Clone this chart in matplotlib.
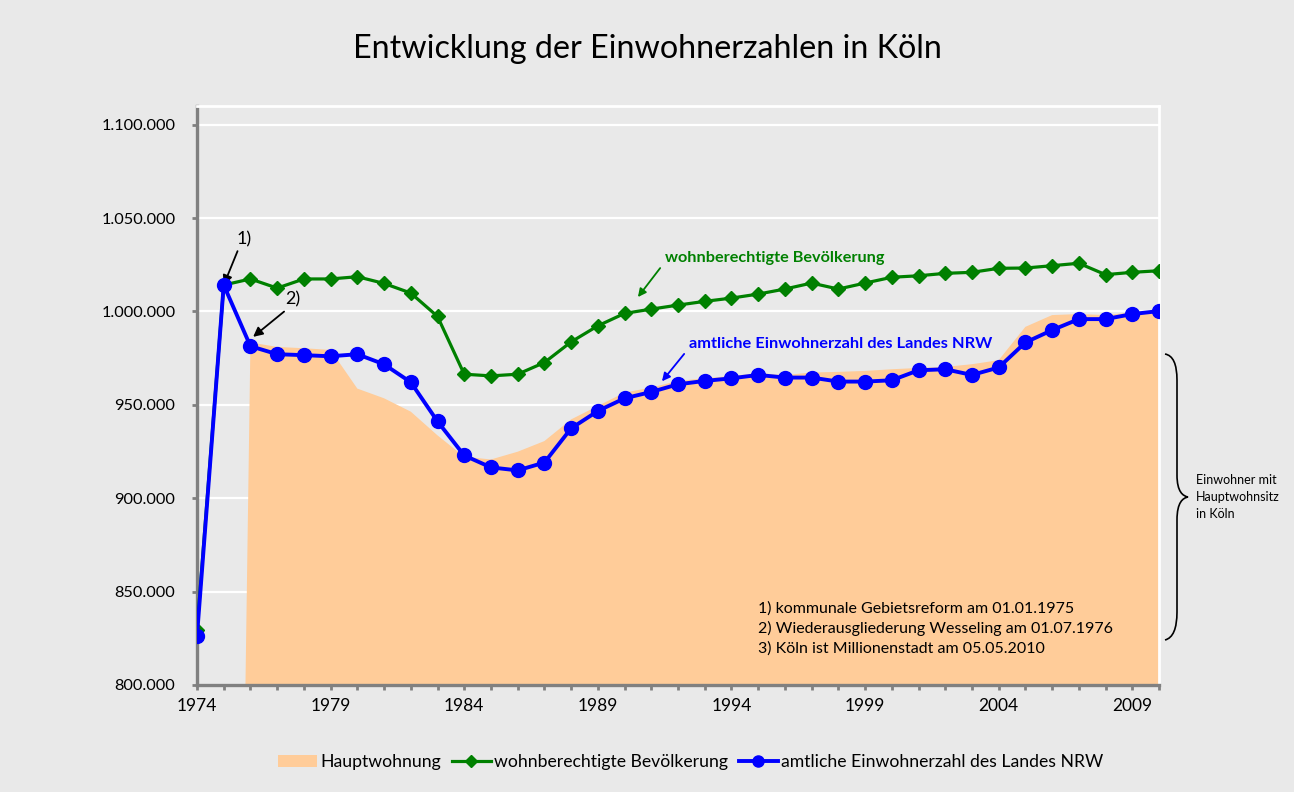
import matplotlib
matplotlib.use("Agg")
import matplotlib.pyplot as plt
from matplotlib.path import Path
from matplotlib.patches import PathPatch, Patch
from matplotlib.lines import Line2D
from matplotlib.ticker import FuncFormatter, MultipleLocator

plt.rcParams["font.family"] = ["Lato", "DejaVu Sans"]

years = list(range(1974, 2011))

# Hauptwohnung (area); 0 before the 1976 series begins
hauptwohnung = [
    0, 0, 983400, 981000, 980300, 979400, 958700, 953500, 946350, 933650,
    922200, 920750, 924900, 930600, 942200, 949400, 956550, 959250, 962800,
    964200, 965500, 966900, 965950, 967300, 967650, 968150, 969050, 969750,
    970300, 971750, 973900, 991750, 998050, 998600, 998050, 999500, 1000350,
]

# wohnberechtigte Bevölkerung
wohnberechtigt = [
    829500, 1014150, 1017400, 1012500, 1017400, 1017400, 1018600, 1015000,
    1009850, 997350, 966400, 965500, 966400, 972650, 983700, 992300, 998950,
    1001250, 1003400, 1005400, 1007150, 1009300, 1012000, 1015200, 1012000,
    1015200, 1018300, 1019100, 1020400, 1020950, 1023100, 1023250, 1024500,
    1025800, 1019700, 1020950, 1021800,
]

# amtliche Einwohnerzahl des Landes NRW
amtlich = [
    826300, 1014150, 981400, 977100, 976600, 976000, 977100, 971700, 962100,
    941150, 922900, 916500, 914900, 919100, 937400, 946700, 953500, 956900,
    961000, 962800, 964200, 966000, 964600, 964600, 962450, 962450, 963150,
    968500, 969050, 966000, 970000, 983400, 990000, 995900, 995900, 998600,
    1000200,
]

footnotes = [
    "1) kommunale Gebietsreform am 01.01.1975",
    "2) Wiederausgliederung Wesseling am 01.07.1976",
    "3) Köln ist Millionenstadt am 05.05.2010",
]

BG = "#e9e9e9"
AREA = "#ffcc99"
GREEN = "#008000"
BLUE = "#0000ff"
AXIS = "#808080"

W, H = 1294, 792
fig = plt.figure(figsize=(W / 100, H / 100), dpi=100, facecolor=BG)
ax = fig.add_axes([197 / W, 1 - 685 / H, (1159 - 197) / W, (685 - 106) / H])
ax.set_facecolor(BG)


def px(x, y):
    # pixel position (from top-left) -> figure fraction
    return x / W, 1 - y / H


ax.fill_between(years, hauptwohnung, 0, color=AREA, lw=0, zorder=2)
ax.plot(years, wohnberechtigt, color=GREEN, lw=2.3, marker="D", ms=7.5,
        zorder=3)
ax.plot(years, amtlich, color=BLUE, lw=2.8, marker="o", ms=10, zorder=4)

ax.set_xlim(1974, 2010)
ax.set_ylim(800000, 1110000)
ax.yaxis.set_major_locator(MultipleLocator(50000))
ax.yaxis.set_major_formatter(FuncFormatter(lambda v, p: f"{int(v):,}".replace(",", ".")))
ax.set_xticks(range(1974, 2011, 5))
ax.set_xticks(years, minor=True)
ax.grid(axis="y", color="white", lw=1.6, zorder=1)
ax.set_axisbelow(True)

for side in ("left", "bottom"):
    ax.spines[side].set_color(AXIS)
    ax.spines[side].set_linewidth(2.4)
for side in ("top", "right"):
    ax.spines[side].set_color("white")
    ax.spines[side].set_linewidth(2.0)

ax.tick_params(axis="both", which="both", color=AXIS, width=2, length=3.6,
               labelcolor="black")
ax.tick_params(axis="y", pad=12, labelsize=11.8)
ax.tick_params(axis="x", pad=6, labelsize=12.5)

fig.text(0.5, 1 - 49 / H, "Entwicklung der Einwohnerzahlen in Köln",
         ha="center", va="center", fontsize=23.2)

arrow = dict(arrowstyle="-|>", color="black", lw=1.3, mutation_scale=14,
             shrinkA=1, shrinkB=0)
ax.annotate("1)", xy=(1975, amtlich[1]), xytext=(20, 46),
            textcoords="offset pixels", fontsize=13, ha="center", va="center",
            arrowprops=dict(arrow, relpos=(0.2, 0.0)))
ax.annotate("2)", xy=(1976.1, amtlich[2] + 5000), xytext=(40, 37),
            textcoords="offset pixels", fontsize=13, ha="center", va="center",
            arrowprops=dict(arrow, relpos=(0.2, 0.0)))
ax.annotate("3)", xy=(2010.1, amtlich[-1] + 6000), xytext=(27, 48),
            textcoords="offset pixels", fontsize=13, ha="center", va="center",
            arrowprops=dict(arrow, relpos=(0.2, 0.0)))

ax.annotate("wohnberechtigte Bevölkerung", xy=(1990.5, 1007700),
            xytext=(1991.5, 1028600), fontsize=11.7, fontweight="bold",
            color=GREEN, ha="left", va="center",
            arrowprops=dict(arrowstyle="-|>", color=GREEN, lw=1.3,
                            mutation_scale=12, shrinkA=2, shrinkB=0,
                            relpos=(0.0, 0.2)), zorder=5)
ax.annotate("amtliche Einwohnerzahl des Landes NRW", xy=(1991.4, 962600),
            xytext=(1992.4, 982500), fontsize=11.8, fontweight="bold",
            color=BLUE, ha="left", va="center",
            arrowprops=dict(arrowstyle="-|>", color=BLUE, lw=1.3,
                            mutation_scale=12, shrinkA=2, shrinkB=0,
                            relpos=(0.0, 0.2)), zorder=5)

ax.text(1995.0, 845000, "\n".join(footnotes), fontsize=11.5, ha="left",
        va="top", linespacing=1.45, zorder=5)

# curly brace right of the plot
pts = [px(1165, 354), px(1177, 356), px(1177, 380),
       px(1177, 475),
       px(1177, 492), px(1183, 496), px(1188, 497),
       px(1183, 498), px(1177, 502), px(1177, 520),
       px(1177, 612),
       px(1177, 637), px(1165, 640)]
codes = [Path.MOVETO, Path.CURVE3, Path.CURVE3,
         Path.LINETO,
         Path.CURVE4, Path.CURVE4, Path.CURVE4,
         Path.CURVE4, Path.CURVE4, Path.CURVE4,
         Path.LINETO,
         Path.CURVE3, Path.CURVE3]
fig.add_artist(PathPatch(Path(pts, codes), transform=fig.transFigure,
                         fill=False, lw=1.2, color="black"))
fig.text(*px(1196, 497), "Einwohner mit\nHauptwohnsitz\nin Köln",
         fontsize=9, ha="left", va="center", linespacing=1.5)

handles = [
    Patch(facecolor=AREA, edgecolor="none"),
    Line2D([], [], color=GREEN, lw=2.3, marker="D", ms=6),
    Line2D([], [], color=BLUE, lw=2.8, marker="o", ms=8),
]
labels = ["Hauptwohnung", "wohnberechtigte Bevölkerung",
          "amtliche Einwohnerzahl des Landes NRW"]
fig.legend(handles, labels, loc="center", bbox_to_anchor=px(691, 762),
           ncol=3, frameon=False, fontsize=12.7, handlelength=2.2,
           handletextpad=0.2, columnspacing=0.6)

fig.savefig("out.png", dpi=100, facecolor=BG)
